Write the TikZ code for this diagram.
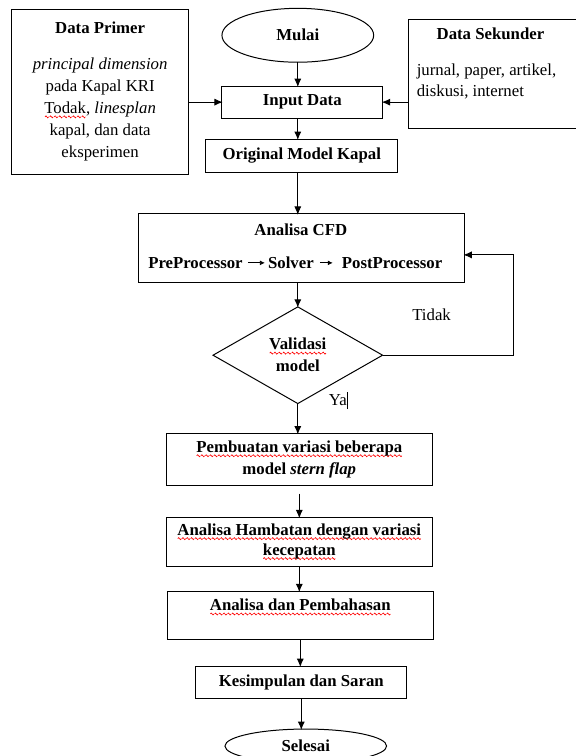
\documentclass[tikz,border=0pt]{standalone}
\usepackage{fontspec}
\setmainfont{Liberation Serif}
\usetikzlibrary{shapes.geometric,arrows.meta}
\newsavebox\mywavebox
\newcommand\redwave[1]{\leavevmode\setbox0\hbox{#1}\rlap{\lower4.5pt\hbox to\wd0{\xleaders\copy\mywavebox\hfil}}\box0}
\begin{document}
\begin{tikzpicture}[x=1pt,y=-1pt,line width=1pt,
  font=\fontsize{16.8}{22}\selectfont,
  box/.style={draw,rectangle,inner sep=0pt,align=center},
  term/.style={draw,ellipse,inner sep=0pt,align=center},
  lbl/.style={inner sep=0pt,align=center},
  arr/.style={-{Latex[length=7pt,width=6pt]}},
  small/.style={-{Latex[length=5pt,width=5pt]},line width=0.8pt}]
\global\sbox\mywavebox{\begin{tikzpicture}[x=1pt,y=1pt]\draw[red,line width=0.65pt] (0,0) sin (0.9,1.0) cos (1.8,0) sin (2.7,-1.0) cos (3.6,0);\end{tikzpicture}}
\useasboundingbox (0,0) rectangle (576,756);

\node[box,minimum width=178pt,minimum height=165pt] (primer) at (100,90.5)
  {\textbf{Data Primer}\\[14pt]\textit{principal dimension}\\pada Kapal KRI\\\redwave{Todak}, \textit{linesplan}\\kapal, dan data\\eksperimen};
\node[term,minimum width=152pt,minimum height=54pt] (mulai) at (298,34) {\textbf{Mulai}};
\node[box,minimum width=161pt,minimum height=32pt] (input) at (302.5,101) {\textbf{Input Data}};
\node[box,minimum width=190pt,minimum height=109pt] (sek) at (504,72.5) {};
\node[lbl] (sekT) at (491,33) {\textbf{Data Sekunder}};
\node[lbl,anchor=west,align=left] (sekB) at (417,80.5) {jurnal, paper, artikel,\\[-1pt]diskusi, internet};
\node[box,minimum width=192pt,minimum height=33pt] (orig) at (302,154.5) {\textbf{Original Model Kapal}};
\node[box,minimum width=327pt,minimum height=69pt] (cfd) at (301.5,247.5) {};
\node[lbl] (cfdT) at (301,229) {\textbf{Analisa CFD}};
\node[lbl,anchor=west] (pre) at (148,262) {\textbf{PreProcessor}};
\node[lbl,anchor=west] (solver) at (268,262) {\textbf{Solver}};
\node[lbl,anchor=west] (post) at (342,262) {\textbf{PostProcessor}};
\node[draw,diamond,minimum width=170pt,minimum height=97pt,inner sep=0pt,align=center] (valid) at (298,354.5)
  {\textbf{\redwave{Validasi}}\\\textbf{model}};
\node[lbl] (tidak) at (432,314) {Tidak};
\node[lbl,anchor=west] (ya) at (329,400) {Ya\rule[-4pt]{0.8pt}{17pt}};
\node[box,minimum width=267pt,minimum height=52pt] (buat) at (299.5,459)
  {\textbf{\redwave{Pembuatan variasi beberapa}}\\\textbf{model \textit{stern flap}}};
\node[box,minimum width=267pt,minimum height=49pt] (hamb) at (299.5,541.5)
  {\textbf{\redwave{Analisa Hambatan dengan variasi}}\\[-2pt]\textbf{\redwave{kecepatan}}};
\node[box,minimum width=267pt,minimum height=48pt] (bahas) at (300.5,615) {};
\node[lbl] (bahasT) at (300.5,607) {\textbf{\redwave{Analisa dan Pembahasan}}};
\node[box,minimum width=211pt,minimum height=32pt] (simpul) at (301.5,682) {\textbf{Kesimpulan dan Saran}};
\node[term,minimum width=162pt,minimum height=34pt] (selesai) at (306,746) {\textbf{Selesai}};

\coordinate (col) at (298,0);
\coordinate (fb) at (514,0);
\coordinate (fbin) at (465,254);

\draw[arr] (primer.east |- input.west) -- (input.west);
\draw[arr] (sek.west |- input.east) -- (input.east);
\draw[arr] (mulai.south) -- (mulai.south |- input.north);
\draw[arr] (col |- input.south) -- (col |- orig.north);
\draw[arr] (col |- orig.south) -- (col |- cfd.north);
\draw[arr] (col |- cfd.south) -- (valid.north);
\draw[arr] (valid.south) -- (valid.south |- buat.north);
\draw[arr,shorten <=8pt] (buat.south) -- (buat.south |- hamb.north);
\draw[arr] (hamb.south) -- (hamb.south |- bahas.north);
\draw[arr] (bahas.south) -- (bahas.south |- simpul.north);
\draw[arr] (simpul.south) -- (simpul.south |- selesai.north);
\draw[arr] (valid.east) -| (fb |- fbin) -- (fbin);
\draw[small,shorten <=5pt,shorten >=3pt] (pre.east) -- (solver.west);
\draw[small,shorten <=6pt,shorten >=9pt] (solver.east) -- (post.west);
\end{tikzpicture}
\end{document}
